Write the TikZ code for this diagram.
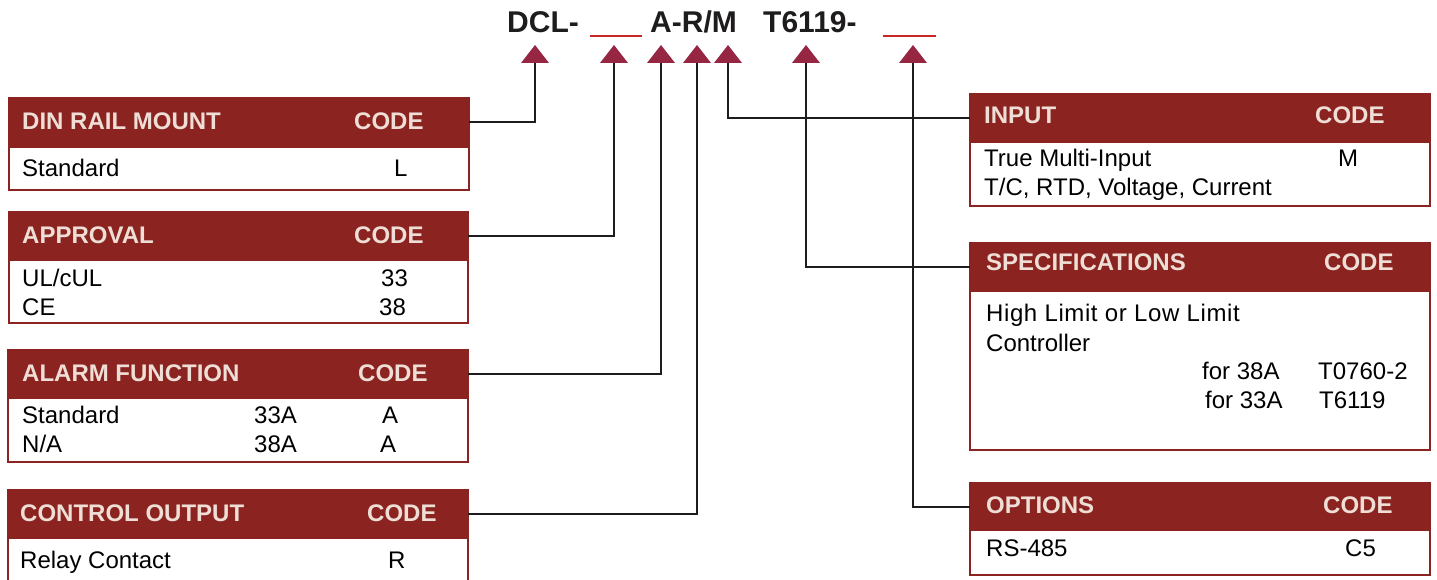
\documentclass[tikz,border=0pt]{standalone}
\usepackage{fontspec}
\setmainfont{Liberation Sans}
\definecolor{hdrred}{RGB}{139,36,32}
\definecolor{hdrtext}{RGB}{238,222,214}
\definecolor{trired}{RGB}{150,38,66}
\definecolor{ulred}{RGB}{200,40,35}
\definecolor{ink}{RGB}{30,28,28}
\tikzset{
  boxframe/.style={draw=hdrred, line width=2.5pt, fill=white},
  hdrfill/.style={fill=hdrred, draw=hdrred, line width=2.5pt},
  htxt/.style={anchor=base west, inner sep=0pt, text=hdrtext, font=\fontsize{24}{28}\selectfont\bfseries},
  btxt/.style={anchor=base west, inner sep=0pt, text=black, font=\fontsize{24}{28}\selectfont},
  ttxt/.style={anchor=base west, inner sep=0pt, text=ink, font=\fontsize{30}{34}\selectfont\bfseries},
  conn/.style={draw=ink, line width=2pt},
  trimark/.style={fill=trired},
  hdrnode/.style={inner sep=0pt, outer sep=0pt, anchor=north west},
}
\newcommand{\codebox}[6]{%
  % #1 name, #2 x, #3 top y, #4 width, #5 header height, #6 total height
  \fill[white] (#2,-#3) rectangle ++(#4,-#6);
  \draw[boxframe] (#2,-#3) rectangle ++(#4,-#6);
  \node[hdrnode, hdrfill, minimum width=#4pt, minimum height=#5pt] (#1) at (#2,-#3) {};
}
\newcommand{\trimk}[2]{%
  \coordinate (#1) at (#2,-63);
  \fill[trimark] (#1) ++(-14,0) -- ++(14,18) -- ++(14,-18) -- cycle;
}
\begin{document}
\begin{tikzpicture}[x=1pt,y=1pt]
\useasboundingbox (0,0) rectangle (1437,-580);
\fill[white] (0,0) rectangle (1437,-580);

% title
\node[ttxt] (tdcl) at (507,-33) {DCL-};
\node[ttxt] (tarm) at (650,-33) {A-R/M};
\node[ttxt] (tt) at (763,-33) {T6119-};
\draw[ulred, line width=1.5pt] (590,-36) -- (642,-36);
\draw[ulred, line width=1.5pt] (883,-36) -- (936,-36);

% triangles
\trimk{t1}{535}
\trimk{t2}{614}
\trimk{t3}{661}
\trimk{t4}{697}
\trimk{t5}{728}
\trimk{t6}{806}
\trimk{t7}{913}

% left boxes
\codebox{b1}{9}{98}{460}{49}{92}
\node[htxt] (b1a) at (22,-130) {DIN RAIL MOUNT};
\node[htxt] (b1b) at (354,-130) {CODE};
\node[btxt] (b1c) at (22,-177) {Standard};
\node[btxt] (b1d) at (394,-177) {L};

\codebox{b2}{9}{212}{459}{48}{111}
\node[htxt] (b2a) at (22,-243) {APPROVAL};
\node[htxt] (b2b) at (354,-243) {CODE};
\node[btxt] (b2c) at (22,-286) {UL/cUL};
\node[btxt] (b2d) at (381,-286) {33};
\node[btxt] (b2e) at (22,-315) {CE};
\node[btxt] (b2f) at (379,-315) {38};

\codebox{b3}{8}{350}{460}{48}{112}
\node[htxt] (b3a) at (22,-381) {ALARM FUNCTION};
\node[htxt] (b3b) at (358,-381) {CODE};
\node[btxt] (b3c) at (22,-423) {Standard};
\node[btxt] (b3d) at (254,-423) {33A};
\node[btxt] (b3e) at (382,-423) {A};
\node[btxt] (b3f) at (22,-452) {N/A};
\node[btxt] (b3g) at (254,-452) {38A};
\node[btxt] (b3h) at (380,-452) {A};

\codebox{b4}{8}{490}{460}{48}{110}
\node[htxt] (b4a) at (20,-521) {CONTROL OUTPUT};
\node[htxt] (b4b) at (367,-521) {CODE};
\node[btxt] (b4c) at (20,-568) {Relay Contact};
\node[btxt] (b4d) at (388,-568) {R};

% right boxes
\codebox{r1}{970}{94}{460}{48}{112}
\node[htxt] (r1a) at (984,-124) {INPUT};
\node[htxt] (r1b) at (1315,-124) {CODE};
\node[btxt] (r1c) at (984,-167) {True Multi-Input};
\node[btxt] (r1d) at (1338,-167) {M};
\node[btxt] (r1e) at (984,-196) {T/C, RTD, Voltage, Current};

\codebox{r2}{970}{243}{460}{48}{207}
\node[htxt] (r2a) at (986,-270) {SPECIFICATIONS};
\node[htxt] (r2b) at (1324,-270) {CODE};
\node[btxt] (r2c) at (986,-321) {\addfontfeature{LetterSpace=2.5}High Limit or Low Limit};
\node[btxt] (r2d) at (986,-351) {Controller};
\node[btxt] (r2e) at (1202,-379) {for 38A};
\node[btxt] (r2f) at (1318,-379) {T0760-2};
\node[btxt] (r2g) at (1205,-408) {for 33A};
\node[btxt] (r2h) at (1319,-408) {T6119};

\codebox{r3}{970}{483}{460}{47}{92}
\node[htxt] (r3a) at (986,-513) {OPTIONS};
\node[htxt] (r3b) at (1323,-513) {CODE};
\node[btxt] (r3c) at (986,-556) {RS-485};
\node[btxt] (r3d) at (1345,-556) {C5};

% connectors
\draw[conn] (t1) |- (b1.east);
\draw[conn] (t2) |- (b2.east);
\draw[conn] (t3) |- (b3.east);
\draw[conn] (t4) |- (b4.east);
\draw[conn] (t5) |- (r1.west);
\draw[conn] (t6) |- (r2.west);
\draw[conn] (t7) |- (r3.west);
\end{tikzpicture}
\end{document}
